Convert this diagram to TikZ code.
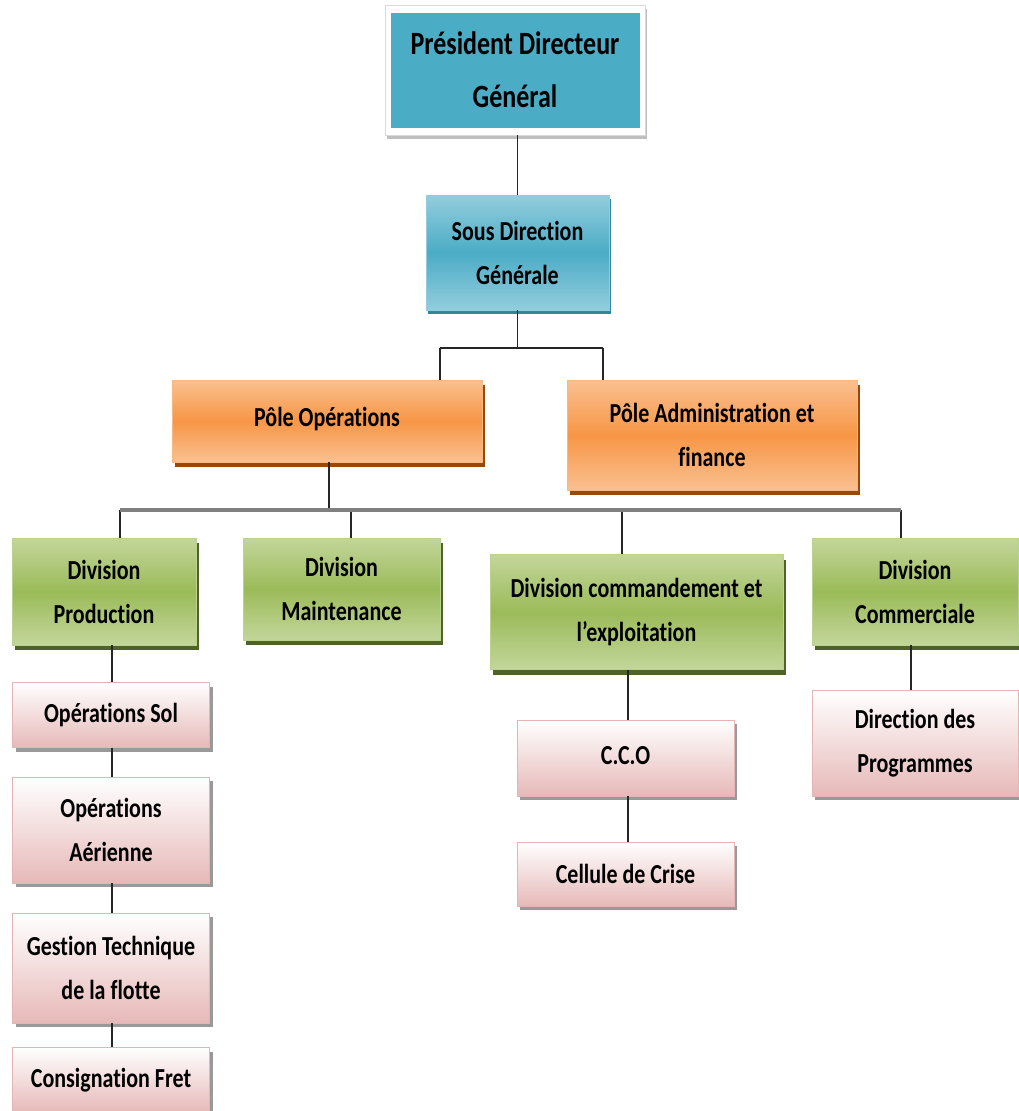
\documentclass[tikz,border=0pt]{standalone}
\usepackage{fontspec}
\setmainfont{Carlito}[FakeStretch=0.8,Ligatures=NoCommon]
\usepackage{tikz}
\usetikzlibrary{shadows}
\definecolor{aquamid}{HTML}{4BACC6}
\definecolor{aqualight}{HTML}{93CDDD}
\definecolor{aquadark}{HTML}{31859C}
\definecolor{orgmid}{HTML}{F79646}
\definecolor{orglight}{HTML}{FAC090}
\definecolor{orgdark}{HTML}{984807}
\definecolor{grnmid}{HTML}{9BBB59}
\definecolor{grnlight}{HTML}{C3D69B}
\definecolor{grndark}{HTML}{4F6228}
\definecolor{pnkbot}{HTML}{E6B9B8}
\definecolor{pnkline}{HTML}{D99694}

\begin{document}
\begin{tikzpicture}[x=1pt,y=-1pt,
    unit/.style 2 args={minimum width=#1pt,minimum height=#2pt,inner sep=0pt,
      align=center,font=\fontsize{27.5}{44}\selectfont\bfseries},
    aquabox/.style={draw=aqualight,top color=aqualight,bottom color=aqualight,middle color=aquamid,
      general shadow={fill=aquadark,shadow xshift=2pt,shadow yshift=-4pt}},
    orgbox/.style={draw=orglight!80!orgmid,top color=orglight,bottom color=orglight,middle color=orgmid,
      general shadow={fill=orgdark,shadow xshift=3pt,shadow yshift=-5pt}},
    grnbox/.style={draw=grnlight!80!grnmid,top color=grnlight,bottom color=grnlight,middle color=grnmid,
      general shadow={fill=grndark,shadow xshift=3pt,shadow yshift=-5pt}},
    pnkbox/.style={draw=pnkline!70,top color=white,bottom color=pnkbot,
      general shadow={fill=black!40,shadow xshift=3pt,shadow yshift=-4pt}},
    link/.style={draw=black!85,line width=1.2pt},
    bus/.style={draw=black!50,line width=3.5pt}]
  \useasboundingbox (0,0) rectangle (1019,1111);

  % top level
  \node[unit={260}{130},draw=black!15,fill=white,
    general shadow={fill=black!25,shadow xshift=2pt,shadow yshift=-4pt}] (pdgframe) at (515,70) {};
  \node[unit={249}{115},fill=aquamid,font=\fontsize{32.5}{53}\selectfont\bfseries] (pdg) at (515,70)
    {Président Directeur\\Général};
  \node[unit={183}{115},aquabox] (sdg) at (517.5,252.5) {Sous Direction\\Générale};

  % poles
  \node[unit={310}{82},orgbox] (popes) at (327,421) {\raisebox{8pt}{Pôle Opérations}};
  \node[unit={290}{110},orgbox] (padmin) at (712,435) {Pôle Administration et\\finance};

  % divisions
  \node[unit={184}{107},grnbox] (dprod) at (104,591.5) {Division\\Production};
  \node[unit={197}{102},grnbox] (dmaint) at (341.5,589) {Division\\Maintenance};
  \node[unit={293}{115},grnbox] (dcmd) at (636.5,612) {Division commandement et\\l’exploitation};
  \node[unit={206}{107},grnbox] (dcom) at (915,591.5) {Division\\Commerciale};

  % services
  \node[unit={197}{65},pnkbox] (osol) at (111,715) {Opérations Sol};
  \node[unit={197}{106},pnkbox] (oaer) at (111,830) {Opérations\\Aérienne};
  \node[unit={197}{110},pnkbox] (gtech) at (111,968) {Gestion Technique\\de la flotte};
  \node[unit={197}{65},pnkbox] (cfret) at (111,1080) {Consignation Fret};
  \node[unit={217}{76},pnkbox] (cco) at (625.5,758) {\raisebox{5pt}{C.C.O}};
  \node[unit={217}{64},pnkbox] (ccrise) at (625.5,874) {Cellule de Crise};
  \node[unit={206}{106},pnkbox] (dprog) at (915,743) {Direction des\\Programmes};

  \coordinate (j1l) at (440,348);
  \coordinate (j1r) at (603,348);
  \coordinate (j2l) at (120,510);
  \coordinate (j2r) at (901,510);

  \draw[link] (sdg.north) -- (sdg.north |- pdgframe.south);
  \draw[link] (sdg.south) -- (sdg.south |- j1l);
  \draw[link] (j1l) -- (j1r);
  \draw[link] (j1l) -- (j1l |- popes.north);
  \draw[link] (j1r) -- (j1r |- padmin.north);

  \draw[link] (329,0 |- popes.south) -- (329,0 |- j2l);
  \draw[link] (j2l) -- (j2l |- dprod.north);
  \draw[link] (351,0 |- j2l) -- (351,0 |- dmaint.north);
  \draw[link] (622,0 |- j2l) -- (622,0 |- dcmd.north);
  \draw[link] (j2r) -- (j2r |- dcom.north);
  \draw[bus] (j2l) -- (j2r);

  \foreach \a/\b in {dprod/osol,osol/oaer,oaer/gtech,gtech/cfret}
    \draw[link] (112,0 |- \a.south) -- (112,0 |- \b.north);
  \draw[link] (628,0 |- dcmd.south) -- (628,0 |- cco.north);
  \draw[link] (628,0 |- cco.south) -- (628,0 |- ccrise.north);
  \draw[link] (911,0 |- dcom.south) -- (911,0 |- dprog.north);
\end{tikzpicture}
\end{document}
